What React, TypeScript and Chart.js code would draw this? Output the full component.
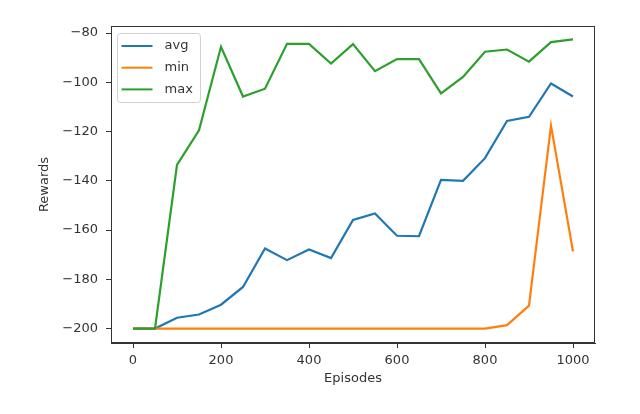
import React, { useEffect, useRef } from "react";
import { Chart, registerables } from "chart.js";

Chart.register(...registerables);

const episodes = [0, 50, 100, 150, 200, 250, 300, 350, 400, 450, 500, 550, 600, 650, 700, 750, 800, 850, 900, 950, 1000];
const avgRewards = [-200, -200, -195.6, -194.3, -190.3, -183.1, -167.5, -172.2, -167.9, -171.4, -155.9, -153.3, -162.3, -162.5, -139.6, -140, -130.8, -115.7, -114, -100.5, -105.8];
const minRewards = [-200, -200, -200, -200, -200, -200, -200, -200, -200, -200, -200, -200, -200, -200, -200, -200, -200, -198.6, -190.7, -117.6, -168.7];
const maxRewards = [-200, -200, -133.5, -119.5, -85.6, -105.8, -102.6, -84.4, -84.4, -92.4, -84.5, -95.5, -90.6, -90.6, -104.5, -97.8, -87.6, -86.7, -91.6, -83.7, -82.6];
const xTicks = [0, 200, 400, 600, 800, 1000];
const yTicks = [-200, -180, -160, -140, -120, -100, -80];
const seriesNames = ["avg", "min", "max"];
const seriesColors = ["#1f77b4", "#ff7f0e", "#2ca02c"];
const xLabel = "Episodes";
const yLabel = "Rewards";

const fmt = (v: number) => String(v).replace("-", "\u2212");

const framePlugin = {
  id: "mplFrame",
  afterDatasetsDraw(chart: any) {
    const { ctx, chartArea } = chart;
    ctx.save();
    ctx.strokeStyle = "#333";
    ctx.lineWidth = 1;
    ctx.strokeRect(
      Math.round(chartArea.left) + 0.5,
      Math.round(chartArea.top) + 0.5,
      Math.round(chartArea.right - chartArea.left) - 1,
      Math.round(chartArea.bottom - chartArea.top) - 1
    );
    ctx.restore();
  },
};

const legendPlugin = {
  id: "mplLegend",
  afterDraw(chart: any) {
    const { ctx, chartArea } = chart;
    const x = chartArea.left + 6.5;
    const y = chartArea.top + 7.5;
    const w = 83;
    const h = 69;
    ctx.save();
    ctx.beginPath();
    ctx.roundRect(x, y, w, h, 3);
    ctx.fillStyle = "rgba(255,255,255,0.8)";
    ctx.fill();
    ctx.strokeStyle = "#d0d0d0";
    ctx.lineWidth = 1;
    ctx.stroke();
    chart.data.datasets.forEach((ds: any, i: number) => {
      const cy = y + 12.5 + i * 21.7;
      ctx.beginPath();
      ctx.moveTo(x + 4, cy);
      ctx.lineTo(x + 35, cy);
      ctx.strokeStyle = ds.borderColor;
      ctx.lineWidth = 2;
      ctx.stroke();
      ctx.fillStyle = "#333";
      ctx.font = "13px 'DejaVu Sans'";
      ctx.textAlign = "left";
      ctx.textBaseline = "middle";
      ctx.fillText(ds.label, x + 47, cy);
    });
    ctx.restore();
  },
};

export default function App() {
  const ref = useRef<HTMLCanvasElement | null>(null);

  useEffect(() => {
    document.body.style.margin = "0";
    const canvas = ref.current;
    if (!canvas) return;
    const series = [avgRewards, minRewards, maxRewards];
    const chart = new Chart(canvas, {
      type: "line",
      data: {
        datasets: series.map((vals, i) => ({
          label: seriesNames[i],
          data: episodes.map((e, j) => ({ x: e, y: vals[j] })),
          borderColor: seriesColors[i],
          backgroundColor: seriesColors[i],
          borderWidth: 2.2,
          pointRadius: 0,
          tension: 0,
          fill: false,
          order: 2 - i,
        })),
      },
      options: {
        responsive: false,
        animation: false,
        devicePixelRatio: 1,
        layout: { padding: { top: 26, right: 45, left: 0, bottom: 0 } },
        plugins: {
          legend: { display: false },
          tooltip: { enabled: false },
        },
        scales: {
          x: {
            type: "linear",
            min: -50,
            max: 1050,
            afterBuildTicks: (s: any) => {
              s.ticks = xTicks.map((v) => ({ value: v }));
            },
            afterFit: (s: any) => {
              s.height = 71;
            },
            grid: { drawOnChartArea: false, drawTicks: true, tickLength: 5, tickColor: "#333" },
            border: { color: "#333", width: 1 },
            ticks: { color: "#333", font: { size: 13, family: "DejaVu Sans" }, padding: 5, maxRotation: 0, callback: (v: any) => fmt(v) },
            title: { display: true, text: xLabel, color: "#333", font: { size: 13, family: "DejaVu Sans" }, padding: { top: 0, bottom: 28 } },
          },
          y: {
            type: "linear",
            min: -205.85,
            max: -77.15,
            afterBuildTicks: (s: any) => {
              s.ticks = yTicks.map((v) => ({ value: v }));
            },
            afterFit: (s: any) => {
              s.width = 111;
            },
            grid: { drawOnChartArea: false, drawTicks: true, tickLength: 5, tickColor: "#333" },
            border: { color: "#333", width: 1 },
            ticks: { color: "#333", font: { size: 13, family: "DejaVu Sans" }, padding: 8, callback: (v: any) => fmt(v) },
            title: { display: true, text: yLabel, color: "#333", font: { size: 13, family: "DejaVu Sans" }, padding: { top: 37, bottom: 37 } },
          },
        },
      },
      plugins: [framePlugin, legendPlugin],
    });
    return () => chart.destroy();
  }, []);

  return (
    <div style={{ position: "absolute", left: 0, top: 0, width: 640, height: 414, background: "#fff" }}>
      <canvas ref={ref} width={640} height={414} style={{ display: "block", width: 640, height: 414 }} />
    </div>
  );
}
